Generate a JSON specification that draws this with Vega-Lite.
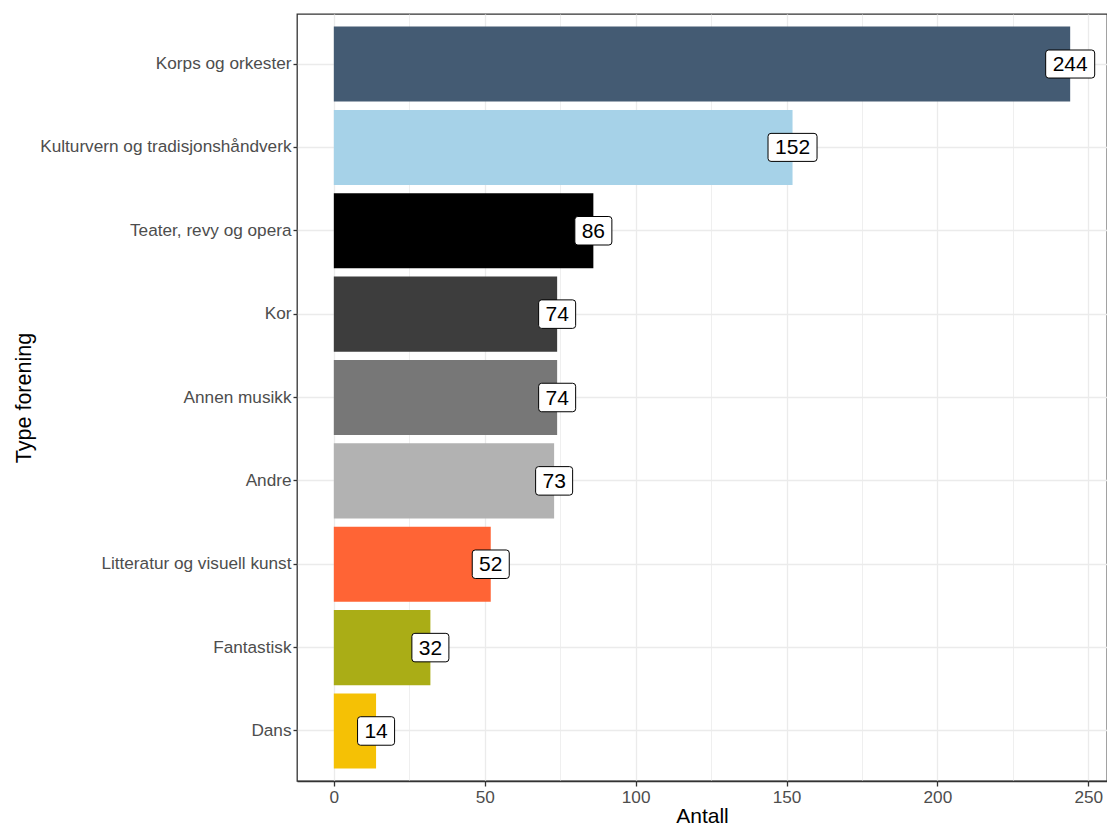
{
  "$schema": "https://vega.github.io/schema/vega-lite/v6.json",
  "autosize": "none",
  "padding": {"left": 297, "top": 14, "right": 0, "bottom": 45},
  "width": 810,
  "height": 767,
  "background": "white",
  "config": {
    "font": "Liberation Sans",
    "view": {"stroke": "#333333", "strokeWidth": 1.3}
  },
  "data": {
    "values": [
      {"type": "Korps og orkester", "antall": 244},
      {"type": "Kulturvern og tradisjonshåndverk", "antall": 152},
      {"type": "Teater, revy og opera", "antall": 86},
      {"type": "Kor", "antall": 74},
      {"type": "Annen musikk", "antall": 74},
      {"type": "Andre", "antall": 73},
      {"type": "Litteratur og visuell kunst", "antall": 52},
      {"type": "Fantastisk", "antall": 32},
      {"type": "Dans", "antall": 14}
    ]
  },
  "encoding": {
    "y": {
      "field": "type",
      "type": "nominal",
      "sort": null,
      "scale": {"paddingInner": 0.1, "paddingOuter": 0.15},
      "axis": {
        "title": "Type forening",
        "titleFontSize": 21.5,
        "titleFontWeight": "normal",
        "titleColor": "black",
        "titleX": -262,
        "labelFontSize": 17.2,
        "labelLimit": 400,
        "labelColor": "#4d4d4d",
        "labelPadding": 2,
        "tickSize": 4,
        "tickColor": "#333333",
        "tickWidth": 1.3,
        "domain": false,
        "bandPosition": 0.5,
        "grid": true,
        "gridColor": "#ebebeb",
        "gridWidth": 1.3
      }
    },
    "x": {
      "field": "antall",
      "type": "quantitative",
      "scale": {"domain": [-12.2, 256.2], "nice": false, "zero": false},
      "axis": {
        "title": "Antall",
        "titleFontSize": 21,
        "titleFontWeight": "normal",
        "titleColor": "black",
        "titlePadding": 0,
        "values": [0, 25, 50, 75, 100, 125, 150, 175, 200, 225, 250],
        "labelExpr": "datum.value % 50 === 0 ? datum.label : ''",
        "labelFontSize": 17.2,
        "labelColor": "#4d4d4d",
        "labelPadding": 2,
        "tickSize": 5,
        "tickWidth": 1.3,
        "tickColor": {"condition": {"test": "datum.value % 50 === 0", "value": "#333333"}, "value": "transparent"},
        "domainColor": "#333333",
        "domainWidth": 1.3,
        "grid": true,
        "gridColor": "#ebebeb",
        "gridWidth": {"condition": {"test": "datum.value % 50 === 0", "value": 1.3}, "value": 0.8}
      }
    }
  },
  "layer": [
    {
      "mark": {"type": "bar", "x": 0},
      "encoding": {
        "x2": {"datum": 0},
        "color": {
          "field": "type",
          "type": "nominal",
          "legend": null,
          "scale": {
            "domain": ["Korps og orkester", "Kulturvern og tradisjonshåndverk", "Teater, revy og opera", "Kor", "Annen musikk", "Andre", "Litteratur og visuell kunst", "Fantastisk", "Dans"],
            "range": ["#445b73", "#a6d2e8", "#000000", "#3d3d3d", "#777777", "#b2b2b2", "#ff6435", "#aaad16", "#f5c105"]
          }
        }
      }
    },
    {
      "mark": {"type": "point", "filled": true, "fill": "white", "stroke": "black", "strokeWidth": 1, "opacity": 1, "size": 3600},
      "encoding": {
        "shape": {
          "condition": {
            "test": "datum.antall >= 100",
            "value": "M -0.717 -0.467 L 0.717 -0.467 Q 0.817 -0.467 0.817 -0.367 L 0.817 0.367 Q 0.817 0.467 0.717 0.467 L -0.717 0.467 Q -0.817 0.467 -0.817 0.367 L -0.817 -0.367 Q -0.817 -0.467 -0.717 -0.467 Z"
          },
          "value": "M -0.517 -0.475 L 0.517 -0.475 Q 0.617 -0.475 0.617 -0.375 L 0.617 0.375 Q 0.617 0.475 0.517 0.475 L -0.517 0.475 Q -0.617 0.475 -0.617 0.375 L -0.617 -0.375 Q -0.617 -0.475 -0.517 -0.475 Z"
        }
      }
    },
    {
      "mark": {"type": "text", "fontSize": 21, "color": "black", "baseline": "middle", "align": "center", "dy": 1},
      "encoding": {
        "text": {"field": "antall", "type": "quantitative"}
      }
    }
  ]
}
